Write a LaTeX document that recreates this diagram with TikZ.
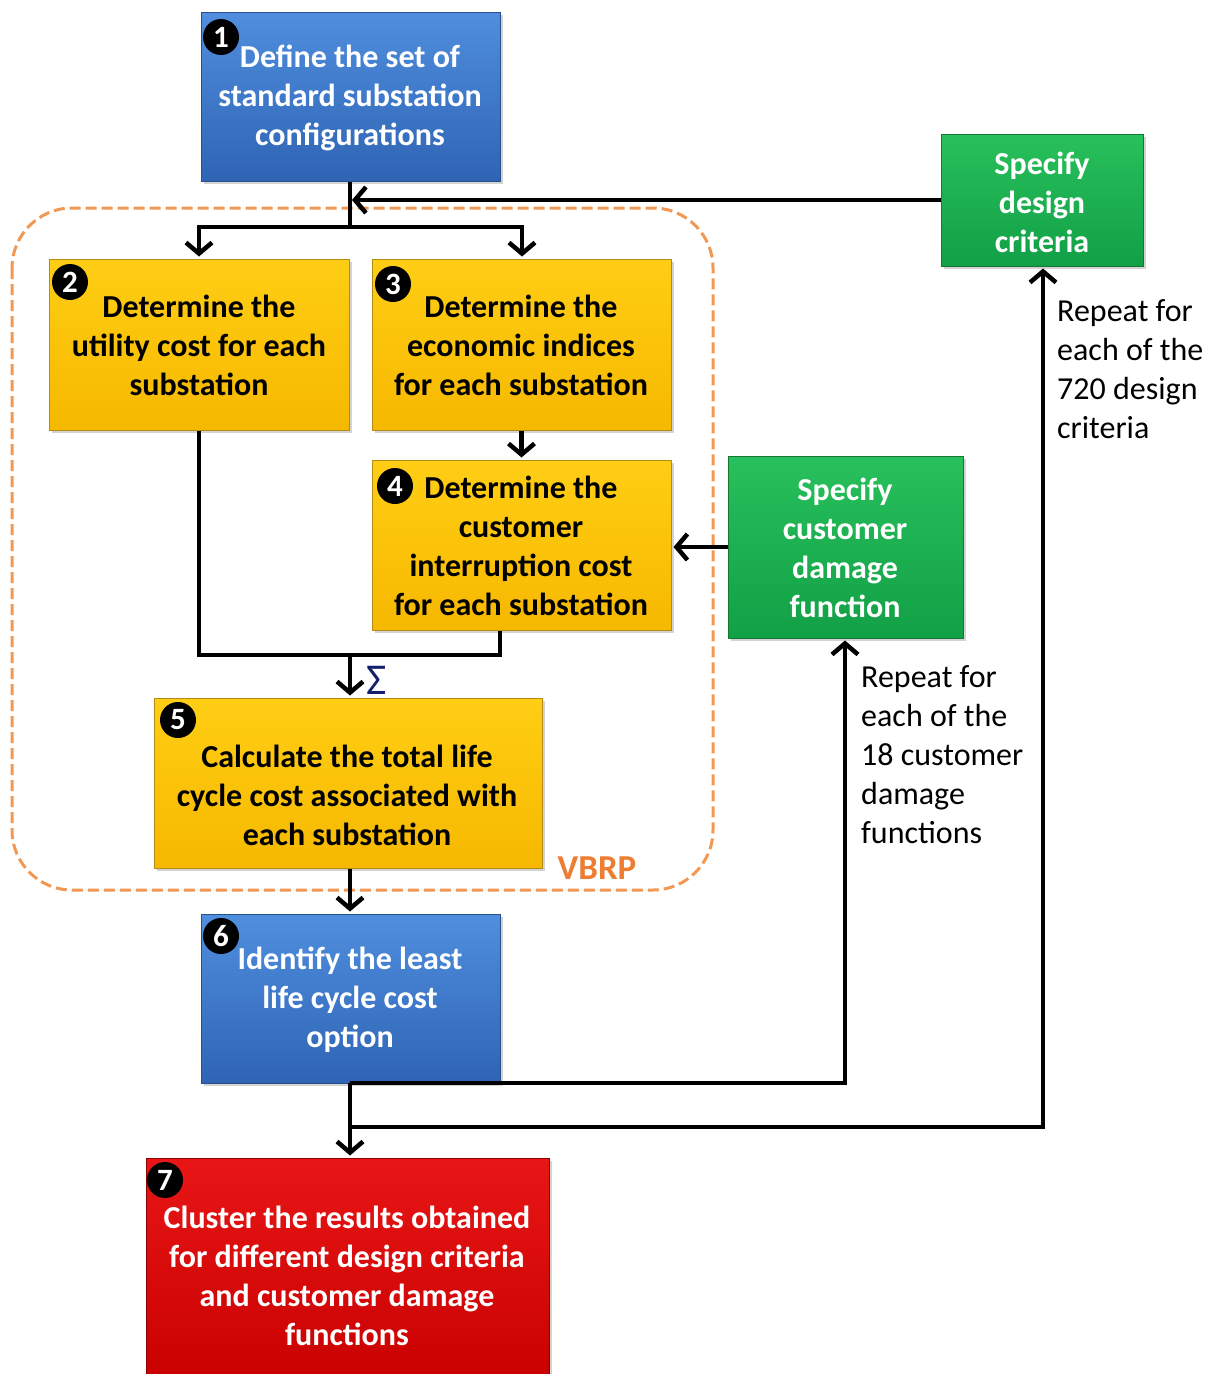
\documentclass[tikz,border=0pt]{standalone}
\usepackage{fontspec}
\setmainfont{Carlito}
\usetikzlibrary{arrows.meta, positioning, calc, shadows}
\definecolor{bluetop}{RGB}{80,142,222}
\definecolor{bluebot}{RGB}{47,100,180}
\definecolor{blueedge}{RGB}{40,80,140}
\definecolor{yellowtop}{RGB}{255,206,20}
\definecolor{yellowbot}{RGB}{246,184,0}
\definecolor{yellowedge}{RGB}{180,140,20}
\definecolor{greentop}{RGB}{40,192,92}
\definecolor{greenbot}{RGB}{18,160,70}
\definecolor{greenedge}{RGB}{20,120,50}
\definecolor{redtop}{RGB}{232,22,22}
\definecolor{redbot}{RGB}{200,0,0}
\definecolor{rededge}{RGB}{140,0,0}
\definecolor{vbrpline}{RGB}{240,152,84}
\definecolor{vbrptext}{RGB}{237,125,49}
\definecolor{sigmacolor}{RGB}{20,30,110}

\tikzset{
  box/.style={draw, line width=1pt, inner sep=0pt,
    drop shadow={shadow xshift=3pt, shadow yshift=-3pt, opacity=0.35}},
  bluebox/.style={box, top color=bluetop, bottom color=bluebot, draw=blueedge},
  yellowbox/.style={box, top color=yellowtop, bottom color=yellowbot, draw=yellowedge},
  greenbox/.style={box, top color=greentop, bottom color=greenbot, draw=greenedge},
  redbox/.style={box, top color=redtop, bottom color=redbot, draw=rededge},
  badge/.style={circle, fill=black, text=white, inner sep=0pt, minimum size=36pt,
    font=\fontsize{31}{31}\selectfont\bfseries},
  boxtext/.style={align=center, inner sep=0pt, font=\fontsize{32}{39}\selectfont\bfseries},
  note/.style={align=left, inner sep=0pt, anchor=west, font=\fontsize{32}{39}\selectfont},
  flow/.style={line width=4.5pt, shorten >=2pt},
}

\begin{document}
\begin{tikzpicture}[x=1pt, y=-1pt, >={Straight Barb[length=11pt, width=26pt]}]
  \useasboundingbox (0,0) rectangle (1213,1374);

  % VBRP region
  \draw[vbrpline, line width=3pt, dash pattern=on 11pt off 5pt, rounded corners=60pt] (12,208) rectangle (713,890);
  \node[font=\fontsize{35}{39}\selectfont\bfseries, text=vbrptext] (vbrp) at (597,868) {VBRP};

  % Boxes
  \node[bluebox, minimum width=299pt, minimum height=169pt] (b1) at (350.5,96.5) {};
  \node[yellowbox, minimum width=300pt, minimum height=171pt] (b2) at (199,344.5) {};
  \node[yellowbox, minimum width=299pt, minimum height=171pt] (b3) at (521.5,344.5) {};
  \node[yellowbox, minimum width=299pt, minimum height=170pt] (b4) at (521.5,545) {};
  \node[yellowbox, minimum width=388pt, minimum height=170pt] (b5) at (348,783) {};
  \node[bluebox, minimum width=299pt, minimum height=169pt] (b6) at (350.5,998.5) {};
  \node[redbox, minimum width=403pt, minimum height=230pt] (b7) at (347.5,1273) {};
  \node[greenbox, minimum width=202pt, minimum height=132pt] (g1) at (1042,200) {};
  \node[greenbox, minimum width=235pt, minimum height=182pt] (g2) at (845.5,547) {};

  % Box texts
  \node[boxtext, text=white] (t1) at (350,98) {Define the set of\\standard substation\\configurations};
  \node[boxtext] (t2) at (199,345) {Determine the\\utility cost for each\\substation};
  \node[boxtext] (t3) at (521,345) {Determine the\\economic indices\\for each substation};
  \node[boxtext] (t4) at (521,546) {Determine the\\customer\\interruption cost\\for each substation};
  \node[boxtext] (t5) at (347,795) {Calculate the total life\\cycle cost associated with\\each substation};
  \node[boxtext, text=white] (t6) at (350,1000) {Identify the least\\life cycle cost\\option};
  \node[boxtext, text=white] (t7) at (347,1276) {Cluster the results obtained\\for different design criteria\\and customer damage\\functions};
  \node[boxtext, text=white] (tg1) at (1042,202) {Specify\\design\\criteria};
  \node[boxtext, text=white] (tg2) at (845,548) {Specify\\customer\\damage\\function};

  % Step numbers
  \node[badge] (n1) at (221,37) {1};
  \node[badge] (n2) at (70,282) {2};
  \node[badge] (n3) at (393,284) {3};
  \node[badge] (n4) at (395,486) {4};
  \node[badge] (n5) at (178,720) {5};
  \node[badge] (n6) at (221,936) {6};
  \node[badge] (n7) at (165,1180) {7};

  % Connectors
  \coordinate (j1) at (350,227);
  \draw[line width=4.5pt] (b1.south -| j1) -- (j1);
  \draw[flow, ->] (j1) -| (b2.north);
  \draw[flow, ->] (j1) -| (b3.north -| 522,0);
  \draw[flow, ->] (g1.west) -- (j1 |- g1.west);
  \draw[flow, ->] (b3.south) -- (b4.north);
  \draw[flow, ->] (g2.west) -- (g2.west -| b4.east);

  \coordinate (j2) at (350,655);
  \coordinate (j3) at (500,655);
  \draw[line width=4.5pt] (b2.south) |- (j3) -- (j3 |- b4.south);
  \draw[flow, ->] (j2) -- (j2 |- b5.north);
  \node[font=\fontsize{44}{44}\selectfont, text=sigmacolor] (sig) at (377,680) {Σ};

  \draw[flow, ->] (j2 |- b5.south) -- (j2 |- b6.north);

  \coordinate (j4) at (350,1083);
  \coordinate (j5) at (350,1127);
  \draw[flow, ->] (j4) -| (g2.south -| 845,0);
  \draw[line width=4.5pt] (j4) -- (j5);
  \draw[flow, ->] (j5) -| (g1.south -| 1043,0);
  \draw[flow, ->] (j5) -- (j5 |- b7.north);

  % Loop notes
  \node[note] (rep1) at (1057,369) {Repeat for\\each of the\\720 design\\criteria};
  \node[note] (rep2) at (861,755) {Repeat for\\each of the\\18 customer\\damage\\functions};
\end{tikzpicture}
\end{document}
